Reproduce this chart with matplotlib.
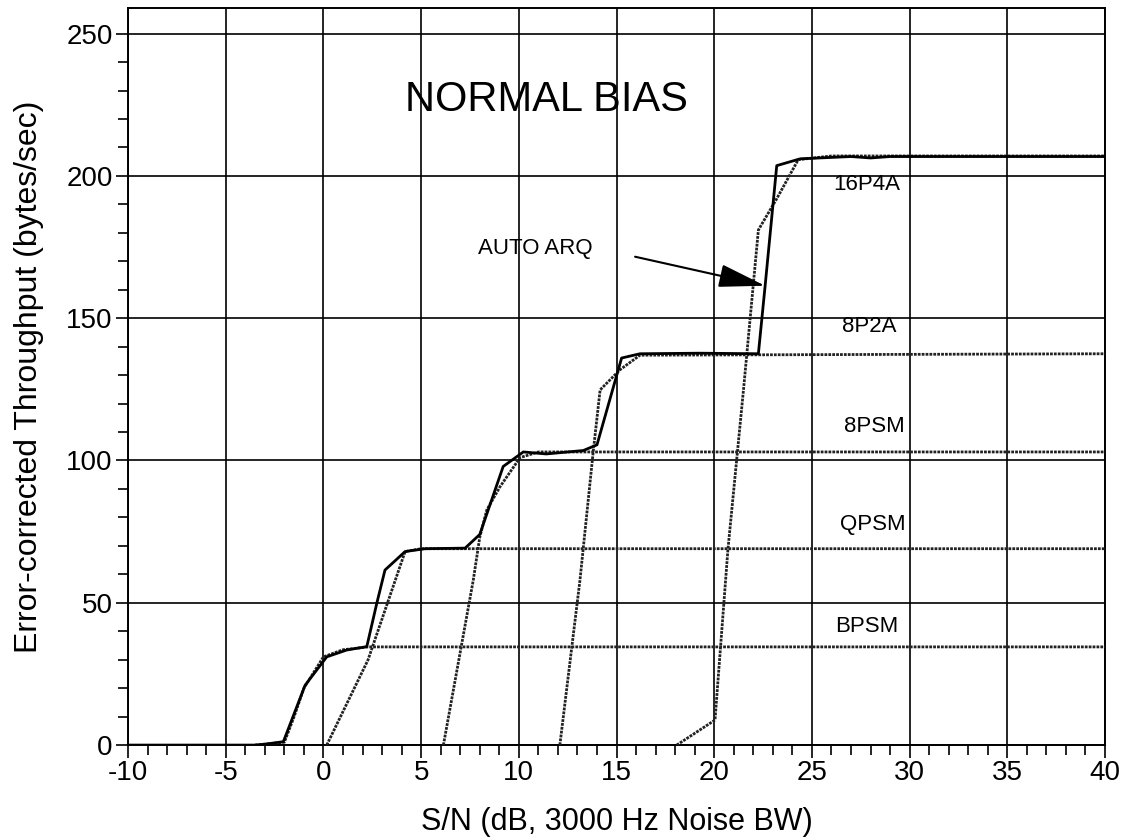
import matplotlib
matplotlib.use('Agg')
import matplotlib.pyplot as plt
from matplotlib.ticker import MultipleLocator

plt.rcParams['font.family'] = ['Liberation Sans', 'DejaVu Sans']
plt.rcParams['axes.unicode_minus'] = False

# combined automatic mode (solid)
auto_arq_x = [-10, -3.5, -3, -2.05, -0.94, 0.17, 1.19, 2.22, 2.73, 3.15, 4.18, 5.2, 7.25, 8.0,
              9.2, 10.23, 11.4, 13.3, 14.0, 15.26, 16.2, 19.27, 22.26, 22.6, 23.2, 24.4, 27, 28, 29, 40]
auto_arq_y = [0, 0, 0.3, 1.2, 21, 31, 33.4, 34.6, 49.8, 61.5, 68, 69, 69.2, 74,
              97.9, 103, 102.3, 103.5, 105.5, 136, 137.5, 137.7, 137.5, 161, 203.6, 206, 206.8, 206.3, 206.8, 206.8]

# single modes (dotted)
bpsm_x = [-3.5, -2, -1.5, -1, 0, 1, 2.3, 40]
bpsm_y = [0, 1, 10, 20, 31, 33.5, 34.5, 34.5]
qpsm_x = [0.17, 2.28, 4.18, 5, 40]
qpsm_y = [0, 29.9, 68, 69, 69]
psm8_x = [6.14, 7.67, 8.0, 8.36, 9.04, 10.06, 11, 40]
psm8_y = [0, 58, 73, 82.6, 90.8, 101, 103, 103]
p2a8_x = [12.1, 13.13, 13.8, 14.16, 15.18, 16.2, 40]
p2a8_y = [0, 58, 102.6, 124.8, 131.9, 137, 137.5]
p4a16_x = [18.08, 20.04, 20.7, 21.5, 22.26, 23.2, 24.3, 26, 40]
p4a16_y = [0, 8.8, 68.6, 125, 181, 192, 205.7, 207, 207]

mode_labels = ['16P4A', '8P2A', '8PSM', 'QPSM', 'BPSM']
mode_label_x = [27.8, 27.95, 28.2, 28.1, 27.8]
mode_label_y = [196.9, 147.1, 111.9, 77.4, 41.6]

fig = plt.figure(figsize=(11.33, 8.4), dpi=100)
ax = fig.add_axes([0.113, 0.113, 0.8623, 0.8775])

ax.set_xlim(-10, 40)
ax.set_ylim(0, 259)

ax.xaxis.set_major_locator(MultipleLocator(5))
ax.xaxis.set_minor_locator(MultipleLocator(1))
ax.yaxis.set_major_locator(MultipleLocator(50))
ax.yaxis.set_minor_locator(MultipleLocator(10))
ax.grid(which='major', color='black', lw=1.2)
ax.set_axisbelow(True)
ax.tick_params(which='major', direction='out', length=9, width=1.2, labelsize=20, pad=2)
ax.tick_params(which='minor', direction='out', length=7, width=1.2)
for sp in ax.spines.values():
    sp.set_linewidth(1.4)

dot = (0, (1, 0.4))
for xs, ys in [(bpsm_x, bpsm_y), (qpsm_x, qpsm_y), (psm8_x, psm8_y),
               (p2a8_x, p2a8_y), (p4a16_x, p4a16_y)]:
    ax.plot(xs, ys, color='#222222', lw=2.0, ls=dot, zorder=3)
ax.plot(auto_arq_x, auto_arq_y, color='black', lw=2.0, zorder=4)

for lab, lx, ly in zip(mode_labels, mode_label_x, mode_label_y):
    ax.text(lx, ly, lab, fontsize=16, ha='center', va='center', zorder=5)

ax.text(11.39, 226.8, 'NORMAL BIAS', fontsize=30, ha='center', va='center')
ax.text(10.83, 174.4, 'AUTO ARQ', fontsize=16, ha='center', va='center')
ax.annotate('', xy=(22.6, 161.4), xytext=(15.95, 171.6),
            arrowprops=dict(arrowstyle='-|>,head_length=2.9,head_width=0.72',
                            color='black', lw=1.5, shrinkA=0, shrinkB=0), zorder=6)

ax.set_xlabel('S/N (dB, 3000 Hz Noise BW)', fontsize=22, labelpad=15)
ax.set_ylabel('Error-corrected Throughput (bytes/sec)', fontsize=23, labelpad=16)

fig.savefig('out.png', dpi=100)
